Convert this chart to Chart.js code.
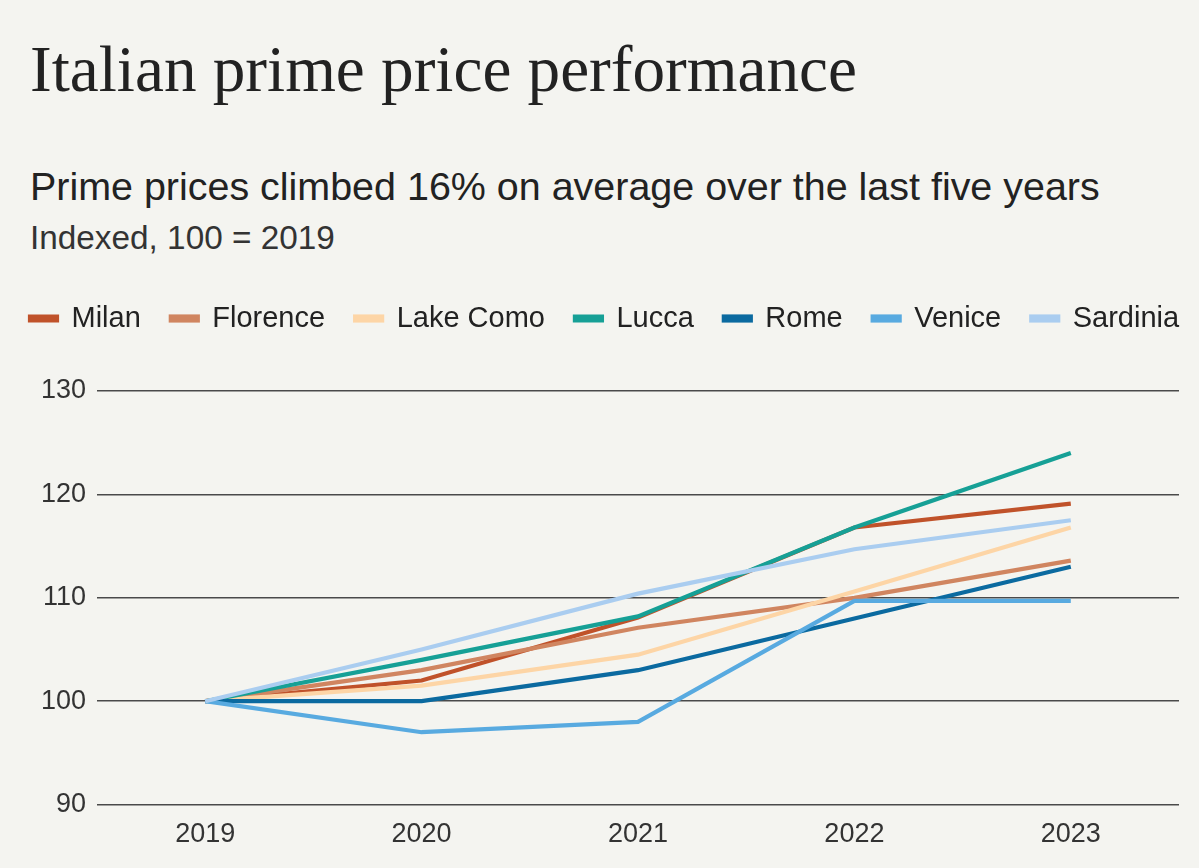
<!DOCTYPE html>
<html>
<head>
<meta charset="utf-8">
<script src="https://cdn.jsdelivr.net/npm/chart.js@4/dist/chart.umd.min.js"></script>
<style>
  html, body { margin:0; padding:0; background:#f4f4f0; }
  body { width:1199px; height:868px; position:relative; overflow:hidden; }
  .t { position:absolute; left:30px; white-space:nowrap; color:#222; line-height:1; margin:0; }
  #title { font-family:"Liberation Serif", serif; font-weight:normal; }
  #sub { font-family:"Liberation Sans", sans-serif; }
  #idx { font-family:"Liberation Sans", sans-serif; color:#333; }
  #wrap { position:absolute; left:0; top:274px; width:1199px; height:594px; }
</style>
</head>
<body>
<h1 class="t" id="title">Italian prime price performance</h1>
<div class="t" id="sub">Prime prices climbed 16% on average over the last five years</div>
<div class="t" id="idx">Indexed, 100 = 2019</div>
<div id="wrap"><canvas id="c"></canvas></div>
<script>
const years = ["2019", "2020", "2021", "2022", "2023"];
const milan    = [100, 102.0, 108.1, 116.8, 119.1];
const florence = [100, 103.0, 107.1, 110.0, 113.6];
const lakeComo = [100, 101.5, 104.5, 110.6, 116.8];
const lucca    = [100, 104.0, 108.2, 116.8, 124.0];
const rome     = [100, 100.0, 103.0, 108.0, 113.0];
const venice   = [100, 97.0, 98.0, 109.7, 109.7];
const sardinia = [100, 105.0, 110.4, 114.7, 117.5];
const yTicks = [90, 100, 110, 120, 130];

// fit header texts to reference widths
const mctx = document.createElement('canvas').getContext('2d');
function fit(id, family, target, baseline, ascFactor) {
  const el = document.getElementById(id);
  mctx.font = `100px ${family}`;
  const w = mctx.measureText(el.textContent).width;
  const size = 100 * target / w;
  el.style.fontSize = size + 'px';
  el.style.top = (baseline - ascFactor * size) + 'px';
}
fit('title', '"Liberation Serif"', 827, 92, 0.8375);
fit('sub', '"Liberation Sans"', 1070, 200, 0.8465);
fit('idx', '"Liberation Sans"', 305, 249, 0.8465);

const series = [
  ["Milan", milan, "#c0522a"],
  ["Florence", florence, "#d08560"],
  ["Lake Como", lakeComo, "#fdd5a6"],
  ["Lucca", lucca, "#16a096"],
  ["Rome", rome, "#0b6aa0"],
  ["Venice", venice, "#58aae0"],
  ["Sardinia", sardinia, "#aacdf0"]
];

const legendGap = {
  id: 'legendGap',
  beforeInit(chart) {
    const orig = chart.legend.fit;
    chart.legend.fit = function() {
      const mw = this.maxWidth;
      this.maxWidth = mw + 200;
      orig.call(this);
      this.maxWidth = mw;
      this.width = Math.min(this.width, mw);
      this.height += 48;
    };
  },
  afterLayout(chart) {
    if (chart.legend) chart.legend.right = chart.width + 200;
  }
};

new Chart(document.getElementById('c'), {
  type: 'line',
  data: {
    labels: years,
    datasets: series.map(([label, data, color], i) => ({
      label, data,
      order: -i,
      borderColor: color,
      backgroundColor: color,
      borderWidth: 4.2,
      pointRadius: 0,
      pointHoverRadius: 0,
      tension: 0,
      fill: false
    }))
  },
  options: {
    responsive: true,
    maintainAspectRatio: false,
    animation: false,
    layout: { padding: { left: 0, right: 20, top: 0, bottom: 11 } },
    plugins: {
      legend: {
        position: 'top',
        align: 'start',
        labels: {
          boxWidth: 27,
          boxHeight: 4,
          padding: 30,
          color: '#222',
          font: { family: '"Liberation Sans", sans-serif', size: 29 },
          sort: (a, b) => a.datasetIndex - b.datasetIndex
        }
      },
      tooltip: { enabled: false }
    },
    scales: {
      x: {
        offset: true,
        grid: { display: false },
        border: { display: false },
        ticks: {
          color: '#333',
          padding: 6,
          font: { family: '"Liberation Sans", sans-serif', size: 27 }
        }
      },
      y: {
        min: 90,
        max: 130,
        afterFit(scale) { scale.width = 97; },
        afterBuildTicks(scale) { scale.ticks = yTicks.map(v => ({ value: v })); },
        grid: { color: '#4a4a4a', lineWidth: 1.5, drawTicks: false },
        border: { display: false },
        ticks: {
          color: '#333',
          padding: 11,
          font: { family: '"Liberation Sans", sans-serif', size: 27 }
        }
      }
    }
  },
  plugins: [legendGap]
});
</script>
</body>
</html>
